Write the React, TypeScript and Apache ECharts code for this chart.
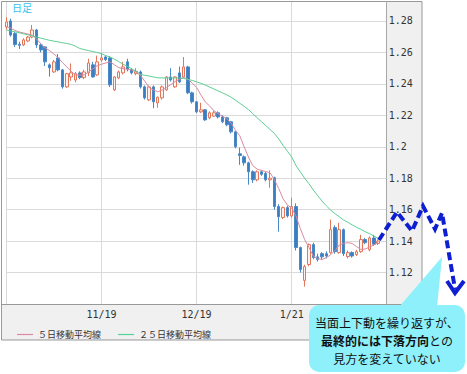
import React, { useEffect, useRef } from "react";
import * as echarts from "echarts";

const dates = ["10/20","10/21","10/22","10/23","10/24","10/27","10/28","10/29","10/30","10/31","11/3","11/4","11/5","11/6","11/7","11/10","11/11","11/12","11/13","11/14","11/17","11/18","11/19","11/20","11/21","11/24","11/25","11/26","11/27","11/28","12/1","12/2","12/3","12/4","12/5","12/8","12/9","12/10","12/11","12/12","12/15","12/16","12/17","12/18","12/19","12/22","12/23","12/24","12/25","12/26","12/29","12/30","12/31","1/2","1/5","1/6","1/7","1/8","1/9","1/12","1/13","1/14","1/15","1/16","1/19","1/20","1/21","1/22","1/23","1/26","1/27","1/28","1/29","1/30","2/2","2/3","2/4","2/5","2/6","2/9","2/10","2/11","2/12","2/13","2/16","2/17","2/18"];

const opens = [1.2762,1.2800,1.2720,1.2652,1.2648,1.2673,1.2698,1.2743,1.2648,1.2635,1.2521,1.2476,1.2565,1.2489,1.2381,1.2444,1.2425,1.2470,1.2440,1.2470,1.2521,1.2457,1.2552,1.2571,1.2565,1.2362,1.2438,1.2470,1.2540,1.2490,1.2465,1.2476,1.2381,1.2298,1.2381,1.2279,1.2311,1.2362,1.2444,1.2381,1.2470,1.2444,1.2508,1.2343,1.2286,1.2222,1.2235,1.2184,1.2195,1.2216,1.2190,1.2184,1.2159,1.2095,1.1955,1.1936,1.1898,1.1841,1.1790,1.1841,1.1830,1.1790,1.1803,1.1620,1.1550,1.1613,1.1560,1.1620,1.1359,1.1150,1.1251,1.1378,1.1300,1.1320,1.1320,1.1327,1.1486,1.1327,1.1473,1.1302,1.1327,1.1314,1.1333,1.1410,1.1345,1.1420,1.1385];
const closes = [1.2794,1.2711,1.2650,1.2645,1.2680,1.2698,1.2743,1.2648,1.2616,1.2540,1.2502,1.2540,1.2489,1.2381,1.2465,1.2470,1.2465,1.2440,1.2476,1.2533,1.2444,1.2540,1.2565,1.2555,1.2394,1.2444,1.2476,1.2508,1.2495,1.2470,1.2480,1.2381,1.2311,1.2381,1.2286,1.2315,1.2381,1.2444,1.2425,1.2444,1.2413,1.2508,1.2343,1.2286,1.2222,1.2235,1.2171,1.2216,1.2216,1.2190,1.2159,1.2140,1.2095,1.2000,1.1945,1.1898,1.1841,1.1790,1.1841,1.1825,1.1790,1.1800,1.1620,1.1555,1.1613,1.1560,1.1620,1.1359,1.1219,1.1238,1.1378,1.1295,1.1283,1.1300,1.1305,1.1473,1.1333,1.1473,1.1320,1.1327,1.1305,1.1333,1.1410,1.1390,1.1420,1.1380,1.1400];
const lows = [1.2745,1.2700,1.2635,1.2622,1.2640,1.2665,1.2690,1.2629,1.2600,1.2514,1.2446,1.2470,1.2480,1.2370,1.2375,1.2420,1.2410,1.2430,1.2430,1.2450,1.2440,1.2450,1.2540,1.2545,1.2380,1.2355,1.2430,1.2460,1.2480,1.2460,1.2455,1.2370,1.2300,1.2290,1.2245,1.2248,1.2300,1.2355,1.2415,1.2375,1.2405,1.2440,1.2335,1.2275,1.2215,1.2215,1.2165,1.2175,1.2190,1.2180,1.2150,1.2130,1.2085,1.1990,1.1885,1.1880,1.1759,1.1770,1.1780,1.1815,1.1780,1.1740,1.1600,1.1460,1.1540,1.1550,1.1550,1.1340,1.1200,1.1111,1.1240,1.1285,1.1270,1.1285,1.1290,1.1320,1.1320,1.1320,1.1305,1.1290,1.1295,1.1305,1.1325,1.1380,1.1335,1.1370,1.1375];
const highs = [1.2825,1.2815,1.2730,1.2668,1.2690,1.2705,1.2775,1.2750,1.2660,1.2640,1.2530,1.2552,1.2590,1.2495,1.2470,1.2530,1.2475,1.2480,1.2490,1.2560,1.2540,1.2580,1.2597,1.2580,1.2575,1.2450,1.2485,1.2540,1.2560,1.2500,1.2500,1.2485,1.2390,1.2390,1.2390,1.2320,1.2390,1.2450,1.2500,1.2450,1.2510,1.2571,1.2515,1.2350,1.2290,1.2280,1.2240,1.2225,1.2230,1.2225,1.2200,1.2190,1.2165,1.2100,1.1995,1.1945,1.1905,1.1850,1.1850,1.1850,1.1840,1.1850,1.1810,1.1635,1.1620,1.1625,1.1676,1.1640,1.1365,1.1250,1.1385,1.1390,1.1320,1.1330,1.1335,1.1537,1.1500,1.1517,1.1480,1.1340,1.1335,1.1345,1.1440,1.1420,1.1430,1.1440,1.1410];

const ma5 = [1.2765,1.2755,1.2740,1.2730,1.2724,1.2717,1.2711,1.2685,1.2655,1.2628,1.2612,1.2590,1.2567,1.2535,1.2508,1.2480,1.2457,1.2456,1.2457,1.2475,1.2495,1.2515,1.2525,1.2533,1.2540,1.2522,1.2503,1.2497,1.2492,1.2489,1.2475,1.2455,1.2418,1.2378,1.2362,1.2350,1.2360,1.2375,1.2395,1.2415,1.2428,1.2440,1.2430,1.2405,1.2378,1.2330,1.2286,1.2260,1.2230,1.2210,1.2195,1.2178,1.2150,1.2105,1.2070,1.2000,1.1935,1.1880,1.1858,1.1850,1.1842,1.1835,1.1790,1.1735,1.1670,1.1630,1.1610,1.1560,1.1480,1.1410,1.1360,1.1305,1.1290,1.1283,1.1295,1.1312,1.1340,1.1375,1.1385,1.1390,1.1385,1.1365,1.1347,1.1350,1.1362,1.1375,1.1395];
const ma25 = [1.2743,1.2737,1.2731,1.2725,1.2718,1.2712,1.2705,1.2698,1.2691,1.2684,1.2677,1.2672,1.2667,1.2662,1.2657,1.2651,1.2640,1.2625,1.2618,1.2612,1.2606,1.2599,1.2593,1.2580,1.2571,1.2557,1.2542,1.2525,1.2512,1.2496,1.2480,1.2461,1.2455,1.2450,1.2444,1.2439,1.2438,1.2438,1.2438,1.2438,1.2438,1.2435,1.2428,1.2422,1.2413,1.2404,1.2393,1.2380,1.2368,1.2355,1.2343,1.2330,1.2315,1.2296,1.2277,1.2257,1.2237,1.2210,1.2185,1.2160,1.2135,1.2110,1.2085,1.2050,1.2010,1.1972,1.1935,1.1880,1.1840,1.1800,1.1765,1.1725,1.1690,1.1655,1.1625,1.1598,1.1575,1.1555,1.1535,1.1520,1.1503,1.1488,1.1475,1.1460,1.1447,1.1433,1.1418];

const labelDates = ["11/19", "12/19", "1/21"];
const gridDates = ["10/20", "11/19", "12/19", "1/21"];
const seriesNames = ["５日移動平均線", "２５日移動平均線"];
const chartTitle = "日足";
const noteLine1 = "当面上下動を繰り返すが、";
const noteBold = "最終的には下落方向";
const noteTail = "との";
const noteLine3 = "見方を変えていない";

const categories = [...dates, "", ""];
const candleData = dates.map((_, i) => [opens[i], closes[i], lows[i], highs[i]]);

const MONO = '"DejaVu Sans Mono", "Liberation Mono", monospace';
const JP = '"Noto Sans CJK JP", "Noto Sans", sans-serif';

export default function App() {
  const ref = useRef<HTMLDivElement>(null);
  useEffect(() => {
    document.body.style.margin = "0";
    const chart = echarts.init(ref.current!, null, { renderer: "svg" });
    const blue = "#0d1fd0";
    chart.setOption({
      animation: false,
      backgroundColor: "#ffffff",
      grid: { left: 6.3, right: 80.2, top: 1.5, bottom: 70, containLabel: false },
      legend: {
        data: seriesNames,
        left: 12,
        top: 325,
        icon: "rect",
        itemWidth: 16,
        itemHeight: 1.2,
        itemGap: 17,
        textStyle: { fontFamily: JP, fontSize: 9, color: "#333" },
      },
      xAxis: {
        type: "category",
        data: categories,
        boundaryGap: false,
        axisLine: { show: false },
        axisTick: { show: false },
        axisLabel: {
          interval: (idx: number, v: string) => labelDates.includes(v),
          fontFamily: MONO,
          fontSize: 10,
          color: "#333",
          margin: 5,
        },
        splitLine: {
          show: true,
          interval: (idx: number, v: string) => gridDates.includes(v),
          lineStyle: { color: "#dadada", width: 1 },
        },
      },
      yAxis: {
        type: "value",
        position: "right",
        min: 1.1,
        max: 1.2924,
        interval: 0.02,
        axisLine: { show: false },
        axisTick: { show: false },
        axisLabel: {
          showMinLabel: false,
          showMaxLabel: false,
          formatter: (v: number) => String(Math.round(v * 100) / 100),
          fontFamily: MONO,
          fontSize: 10,
          color: "#333",
          margin: 2,
        },
        splitLine: { show: true, lineStyle: { color: "#dadada", width: 1 } },
      },
      series: [
        {
          type: "candlestick",
          name: chartTitle,
          data: candleData,
          barWidth: 3,
          clip: false,
          itemStyle: {
            color: "#fff1ec",
            color0: "#3b7dc1",
            borderColor: "#e4765a",
            borderColor0: "#4a89c8",
            borderWidth: 1,
          },
          z: 2,
        },
        {
          type: "line",
          name: seriesNames[0],
          data: ma5,
          symbol: "none",
          color: "#d98aa0",
          lineStyle: { width: 1, color: "#d98aa0" },
          z: 3,
        },
        {
          type: "line",
          name: seriesNames[1],
          data: ma25,
          symbol: "none",
          color: "#5ccf95",
          lineStyle: { width: 1, color: "#5ccf95" },
          z: 3,
        },
      ],
      graphic: {
        elements: [
          { type: "rect", z: -10, shape: { x: 386, y: 1, width: 36, height: 303 }, style: { fill: "#f0f0f0" } },
          { type: "rect", z: -10, shape: { x: 1, y: 304, width: 421, height: 36 }, style: { fill: "#f0f0f0" } },
          { type: "rect", z: 50, shape: { x: 1.5, y: 1.5, width: 420.5, height: 338.5 }, style: { fill: "none", stroke: "#999", lineWidth: 1 } },
          { type: "line", z: 50, shape: { x1: 386.5, y1: 1, x2: 386.5, y2: 304 }, style: { stroke: "#a8a8a8", lineWidth: 1 } },
          { type: "line", z: 50, shape: { x1: 1, y1: 304.5, x2: 422, y2: 304.5 }, style: { stroke: "#999", lineWidth: 1 } },
          { type: "text", z: 60, style: { text: chartTitle, x: 12, y: 3, fontSize: 10, fontFamily: JP, fill: "#3dbff0" } },
          {
            type: "polyline",
            z: 100,
            shape: { points: [[379, 240], [397, 212], [412, 231], [423, 206], [435, 229], [442, 213], [455, 289]] },
            style: { stroke: blue, lineWidth: 4, lineDash: [8, 4], fill: "none" },
          },
          {
            type: "polyline",
            z: 100,
            shape: { points: [[447, 281], [455, 293], [464, 281]] },
            style: { stroke: blue, lineWidth: 4, fill: "none" },
          },
          { type: "polygon", z: 110, shape: { points: [[399, 307], [437, 307], [442, 257]] }, style: { fill: "#8ef0fb" } },
          { type: "rect", z: 110, shape: { x: 309, y: 305, width: 156, height: 67, r: 10 }, style: { fill: "#8ef0fb" } },
          { type: "text", z: 120, style: { text: noteLine1, x: 387, y: 322, align: "center", verticalAlign: "middle", fontSize: 12, fontFamily: JP, fill: "#111" } },
          {
            type: "text",
            z: 120,
            style: {
              text: "{b|" + noteBold + "}{n|" + noteTail + "}",
              x: 387,
              y: 340,
              align: "center",
              verticalAlign: "middle",
              fontSize: 12,
              fontFamily: JP,
              fill: "#111",
              rich: {
                b: { fontSize: 12, fontFamily: JP, fontWeight: "bold", fill: "#111" },
                n: { fontSize: 12, fontFamily: JP, fill: "#111" },
              },
            },
          },
          { type: "text", z: 120, style: { text: noteLine3, x: 387, y: 358, align: "center", verticalAlign: "middle", fontSize: 12, fontFamily: JP, fill: "#111" } },
        ],
      },
    });
    return () => chart.dispose();
  }, []);
  return <div ref={ref} style={{ width: 467, height: 374, position: "absolute", left: 0, top: 0 }} />;
}
